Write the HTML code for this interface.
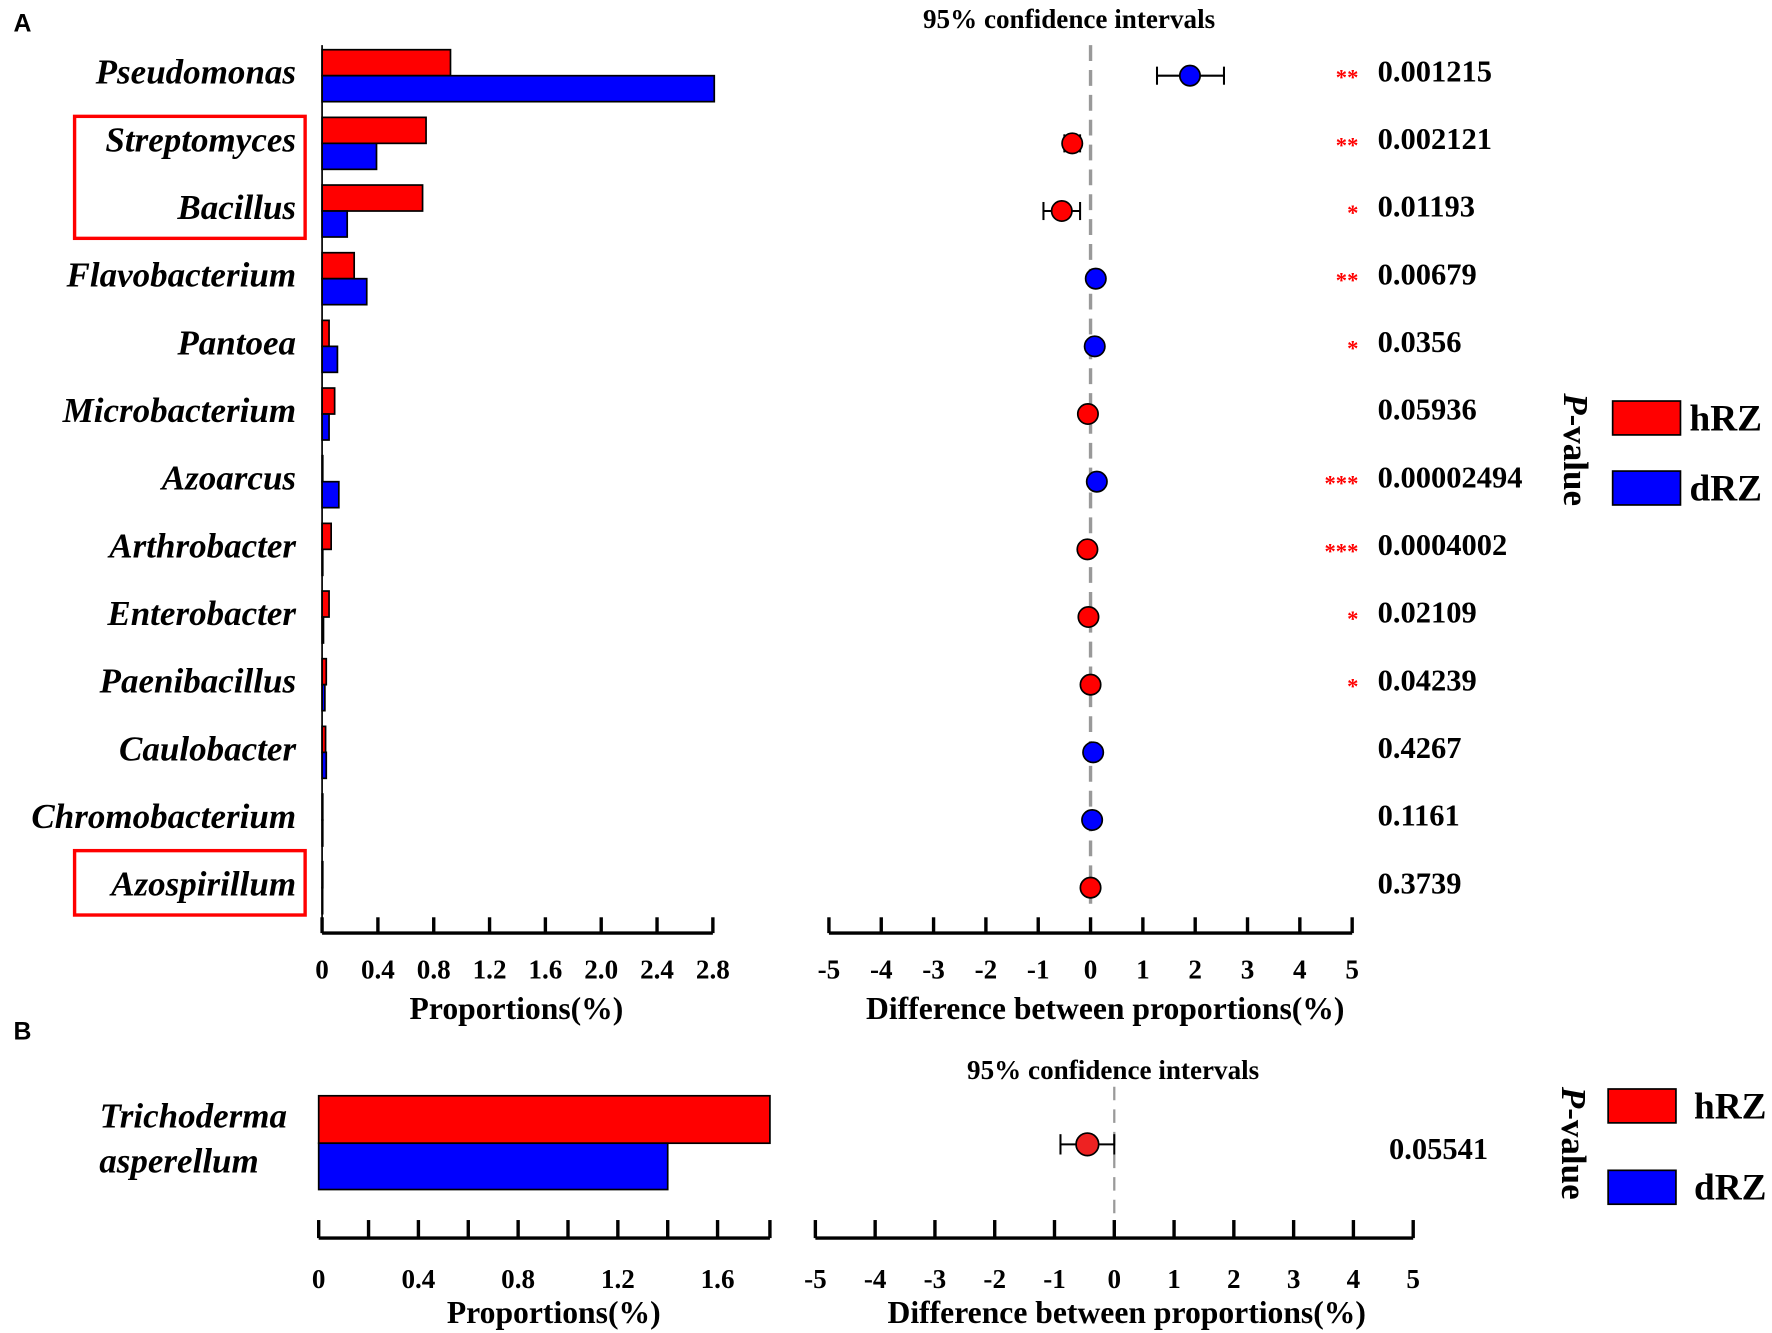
<!DOCTYPE html>
<html><head><meta charset="utf-8"><style>
html,body{margin:0;padding:0;background:#fff;}
svg{display:block;font-family:"Liberation Serif",serif;font-weight:bold;}
</style></head><body>
<svg id="chart" width="1772" height="1333" viewBox="0 0 1568 1180" preserveAspectRatio="none" xmlns="http://www.w3.org/2000/svg">
<g id="root"></g>
</svg>
<script>
const species=["Pseudomonas","Streptomyces","Bacillus","Flavobacterium","Pantoea","Microbacterium","Azoarcus","Arthrobacter","Enterobacter","Paenibacillus","Caulobacter","Chromobacterium","Azospirillum"];
const hRZ=[0.92,0.745,0.72,0.23,0.05,0.09,0.005,0.065,0.05,0.03,0.025,0.005,0.005];
const dRZ=[2.81,0.39,0.18,0.32,0.11,0.05,0.12,0.005,0.01,0.02,0.03,0.005,0.003];
const diff=[1.9,-0.35,-0.55,0.1,0.08,-0.05,0.12,-0.06,-0.04,0.0,0.05,0.03,0.0];
const ciLo=[1.27,-0.5,-0.9,0.05,0.03,-0.1,0.07,-0.11,-0.09,-0.05,0.0,-0.02,-0.05];
const ciHi=[2.55,-0.2,-0.2,0.15,0.13,0.0,0.17,-0.01,0.01,0.05,0.1,0.08,0.05];
const pvals=["0.001215","0.002121","0.01193","0.00679","0.0356","0.05936","0.00002494","0.0004002","0.02109","0.04239","0.4267","0.1161","0.3739"];
const stars=["**","**","*","**","*","","***","***","*","*","","",""];
const propTicks=[0,0.4,0.8,1.2,1.6,2.0,2.4,2.8];
const diffTicks=[-5,-4,-3,-2,-1,0,1,2,3,4,5];
const bSpecies=["Trichoderma","asperellum"];
const bHRZ=[1.81];
const bDRZ=[1.40];
const bDiff=[-0.45];
const bLo=[-0.9];
const bHi=[0.0];
const bP=["0.05541"];
const bTicks=[0,0.4,0.8,1.2,1.6];

const NS="http://www.w3.org/2000/svg";
const root=document.getElementById('root');
function mk(tag,at,parent){const e=document.createElementNS(NS,tag);for(const k in at)e.setAttribute(k,at[k]);(parent||root).appendChild(e);return e;}
function txt(s,x,y,size,anchor,extra){const e=mk('text',Object.assign({x:x,y:y,'font-size':size,'text-anchor':anchor||'start'},extra||{}));e.textContent=s;return e;}

const xP=v=>285+v*123.5;
const xD=v=>965+v*46.3;
const rowC=i=>67+i*59.9;

let t=txt("A",12,28,22,'start',{'font-family':'Liberation Sans, sans-serif'});


t=txt("B",12,920,22,'start',{'font-family':'Liberation Sans, sans-serif'});



species.forEach((s,i)=>{
  const c=rowC(i);
  let l=txt(s,262,c+7,31,'end',{'font-style':'italic'});
  
  
  let r=mk('rect',{x:xP(0),y:c-23,width:Math.max(xP(hRZ[i])-xP(0),0.5),height:23,fill:'#ff0000',stroke:'#000','stroke-width':1.5});
  
  
  r=mk('rect',{x:xP(0),y:c,width:Math.max(xP(dRZ[i])-xP(0),0.5),height:23,fill:'#0000ff',stroke:'#000','stroke-width':1.5});
  
  
});
let hb=mk('rect',{x:66,y:103,width:204,height:108,fill:'none',stroke:'#ff0000','stroke-width':3});


hb=mk('rect',{x:66,y:753,width:204,height:57,fill:'none',stroke:'#ff0000','stroke-width':3});



let ax=mk('line',{x1:xP(0),y1:826,x2:xP(2.8),y2:826,stroke:'#000','stroke-width':3});


mk('line',{x1:xP(0),y1:40,x2:xP(0),y2:826,stroke:'#000','stroke-width':1.5});
propTicks.forEach(v=>{
  mk('line',{x1:xP(v),y1:812,x2:xP(v),y2:826,stroke:'#000','stroke-width':3});
  const tl=txt(v===0?"0":v.toFixed(1),xP(v),866,24,'middle');
  
  
});
t=txt("Proportions(%)",457,902,28,'middle');



t=txt("95% confidence intervals",946,25,24,'middle');


mk('line',{x1:xD(0),y1:40,x2:xD(0),y2:800,stroke:'#999','stroke-width':3,'stroke-dasharray':'14,8'});
ax=mk('line',{x1:xD(-5),y1:826,x2:xD(5),y2:826,stroke:'#000','stroke-width':3});


diffTicks.forEach(v=>{
  mk('line',{x1:xD(v),y1:812,x2:xD(v),y2:826,stroke:'#000','stroke-width':3});
  const tl=txt(String(v),xD(v),866,24,'middle');
  
  
});
t=txt("Difference between proportions(%)",978,902,28,'middle');



species.forEach((s,i)=>{
  const c=rowC(i);
  const g=mk('g',{});
  
  
  mk('line',{x1:xD(ciLo[i]),y1:c,x2:xD(ciHi[i]),y2:c,stroke:'#000','stroke-width':1.8},g);
  mk('line',{x1:xD(ciLo[i]),y1:c-8,x2:xD(ciLo[i]),y2:c+8,stroke:'#000','stroke-width':1.8},g);
  mk('line',{x1:xD(ciHi[i]),y1:c-8,x2:xD(ciHi[i]),y2:c+8,stroke:'#000','stroke-width':1.8},g);
  mk('circle',{cx:xD(diff[i]),cy:c,r:9,fill:diff[i]<0||(diff[i]===0&&hRZ[i]>=dRZ[i])?'#ff0000':'#0000ff',stroke:'#000','stroke-width':1.5},g);
  if(stars[i]){const st=txt(stars[i],1202,c+8,20,'end',{fill:'#ff0000'});
    
    }
  const pv=txt(pvals[i],1219,c+5,27,'start');
  
  
});

function legend(px,py,bx,y1,y2,tx,name){
  const g=mk('g',{});
  
  
  const pt=mk('text',{x:0,y:0,'font-size':31,'text-anchor':'middle',transform:`translate(${px},${py}) rotate(90)`},g);
  pt.innerHTML='<tspan font-style="italic">P</tspan>-value';
  mk('rect',{x:bx,y:y1,width:60,height:30,fill:'#ff0000',stroke:'#000','stroke-width':1.5},g);
  mk('rect',{x:bx,y:y2,width:60,height:30,fill:'#0000ff',stroke:'#000','stroke-width':1.5},g);
  const a=mk('text',{x:tx,y:y1+26,'font-size':33},g);a.textContent='hRZ';
  const b=mk('text',{x:tx,y:y2+26,'font-size':33},g);b.textContent='dRZ';
}
legend(1384,398,1427,355,417,1495,'legend-a');
legend(1382,1012,1423,964,1036,1499,'legend-b');

const xPB=v=>282+v*220.6;
const xDB=v=>986+v*52.9;
t=txt(bSpecies[0],254,998,31,'end',{'font-style':'italic'});


t=txt(bSpecies[1],229,1038,31,'end',{'font-style':'italic'});


let rb=mk('rect',{x:xPB(0),y:970,width:xPB(bHRZ[0])-xPB(0),height:42,fill:'#ff0000',stroke:'#000','stroke-width':1.5});


rb=mk('rect',{x:xPB(0),y:1012,width:xPB(bDRZ[0])-xPB(0),height:41,fill:'#0000ff',stroke:'#000','stroke-width':1.5});


ax=mk('line',{x1:xPB(0),y1:1096,x2:xPB(1.81),y2:1096,stroke:'#000','stroke-width':3});


[0,0.2,0.4,0.6,0.8,1.0,1.2,1.4,1.6,1.81].forEach(v=>mk('line',{x1:xPB(v),y1:1080,x2:xPB(v),y2:1096,stroke:'#000','stroke-width':3}));
bTicks.forEach(v=>{const tl=txt(v===0?"0":v.toFixed(1),xPB(v),1140,24,'middle');
  
  });
t=txt("Proportions(%)",490,1171,28,'middle');



t=txt("95% confidence intervals",985,955,24,'middle');


mk('line',{x1:xDB(0),y1:962,x2:xDB(0),y2:1078,stroke:'#999','stroke-width':2,'stroke-dasharray':'12,8'});
ax=mk('line',{x1:xDB(-5),y1:1096,x2:xDB(5),y2:1096,stroke:'#000','stroke-width':3});


diffTicks.forEach(v=>{
  mk('line',{x1:xDB(v),y1:1080,x2:xDB(v),y2:1096,stroke:'#000','stroke-width':3});
  const tl=txt(String(v),xDB(v),1140,24,'middle');
  
  
});
t=txt("Difference between proportions(%)",997,1171,28,'middle');


const gb=mk('g',{});


const cb=1013;
mk('line',{x1:xDB(bLo[0]),y1:cb,x2:xDB(bHi[0]),y2:cb,stroke:'#000','stroke-width':1.8},gb);
mk('line',{x1:xDB(bLo[0]),y1:cb-9,x2:xDB(bLo[0]),y2:cb+9,stroke:'#000','stroke-width':1.8},gb);
mk('line',{x1:xDB(bHi[0]),y1:cb-9,x2:xDB(bHi[0]),y2:cb+9,stroke:'#000','stroke-width':1.8},gb);
mk('circle',{cx:xDB(bDiff[0]),cy:cb,r:10,fill:'#ee2222',stroke:'#000','stroke-width':1.5},gb);
t=txt(bP[0],1273,1026,27,'middle');


</script>
</body></html>
